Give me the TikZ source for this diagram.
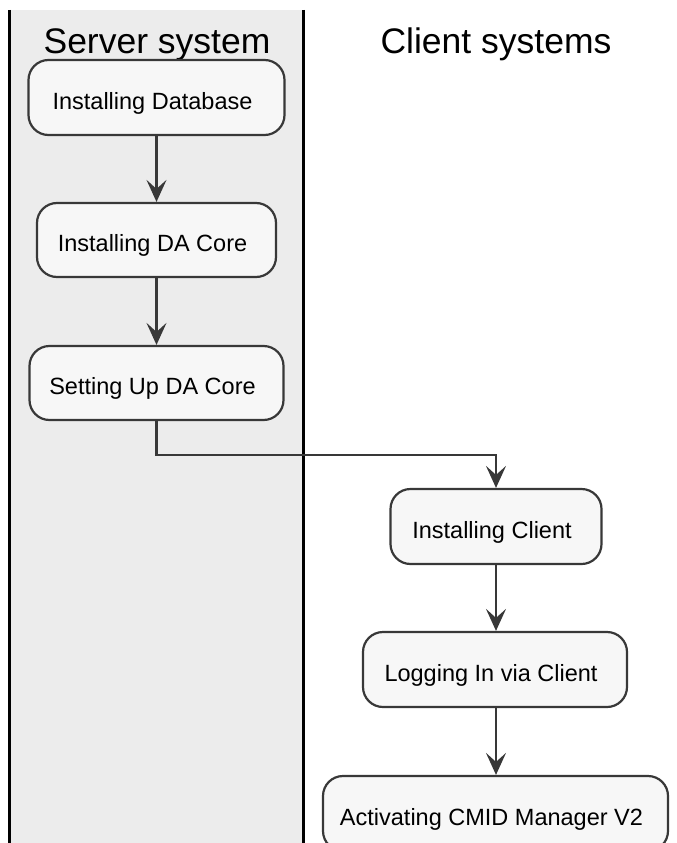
\documentclass[tikz,border=0pt]{standalone}
\usepackage{fontspec}
\setmainfont{Liberation Sans}
\usetikzlibrary{arrows.meta}
\definecolor{lanegray}{HTML}{ECECEC}
\definecolor{boxfill}{HTML}{F7F7F7}
\definecolor{edge}{HTML}{383838}
\tikzset{
  act/.style={draw=edge, line width=2.2pt, fill=boxfill, rounded corners=20pt, font=\fontsize{23.5}{26}\selectfont, inner sep=0pt, text height=23pt, text depth=0pt, anchor=center, execute at end node={\kern8pt}},
  flow/.style={draw=edge, line width=2.2pt, -{Stealth[length=22pt,width=20pt,inset=9pt]}},
  title/.style={font=\fontsize{35.5}{40}\selectfont, anchor=base},
  lane/.style={line width=3pt, black}
}
\begin{document}
\begin{tikzpicture}[x=1pt,y=-1pt]
\useasboundingbox (0,0) rectangle (677,843);
\begin{scope}
\clip (0,0) rectangle (677,843);
\fill[lanegray] (9,10) rectangle (303,843);
\draw[lane] (9,10) -- (9,843);
\draw[lane] (303,10) -- (303,843);
\node[title] (t1) at (157,53) {Server system};
\node[title] (t2) at (496,53) {Client systems};
\node[act, minimum width=256pt, minimum height=75pt] (a1) at (156.5,97.5) {Installing Database};
\node[act, minimum width=239pt, minimum height=74pt] (a2) at (156.5,240) {Installing DA Core};
\node[act, minimum width=254pt, minimum height=74pt] (a3) at (156.5,383) {Setting Up DA Core};
\node[act, minimum width=211pt, minimum height=75pt] (a4) at (496,526.5) {Installing Client};
\node[act, minimum width=264pt, minimum height=75pt] (a5) at (495,669.5) {Logging In via Client};
\node[act, minimum width=345pt, minimum height=75pt] (a6) at (495.5,813.5) {Activating CMID Manager V2};
\coordinate (k1) at (a3.south |- 0,455);
\coordinate (k2) at (a4.north |- 0,455);
\draw[flow] (a1.south) -- (a2.north);
\draw[flow] (a2.south) -- (a3.north);
\draw[flow] (a3.south) -- (k1) -- (k2) -- (a4.north);
\draw[flow] (a4.south) -- (a4.south |- a5.north);
\draw[flow] (a4.south |- a5.south) -- (a4.south |- a6.north);
\end{scope}
\end{tikzpicture}
\end{document}
